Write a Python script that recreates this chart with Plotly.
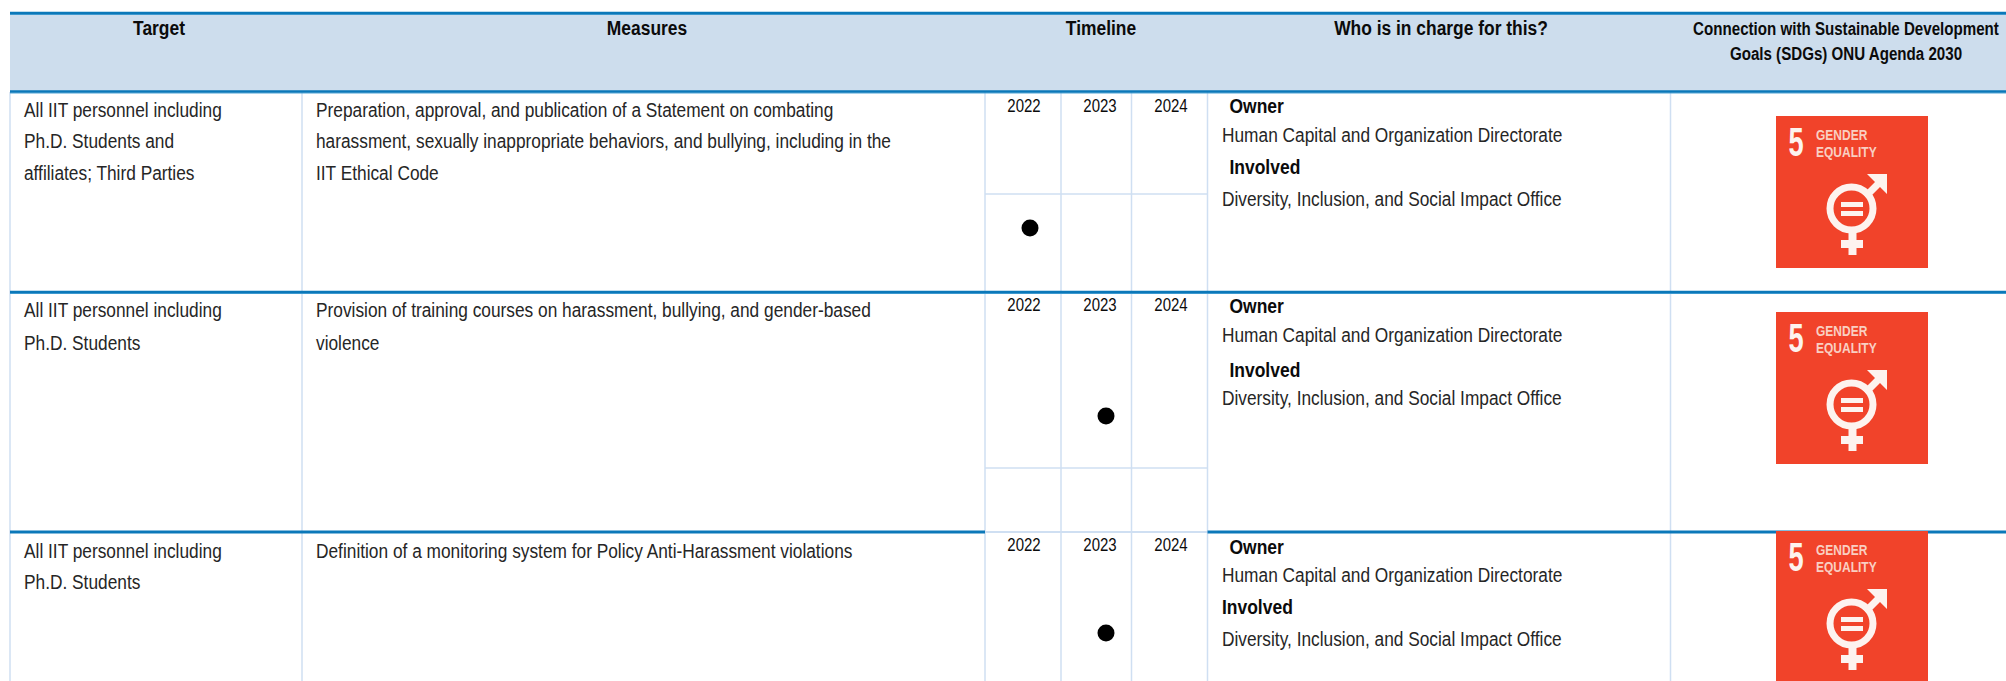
import plotly.graph_objects as go

# ---------- content ----------
headers = ["Target", "Measures", "Timeline", "Who is in charge for this?"]
sdg_header = ["Connection with Sustainable Development", "Goals (SDGs) ONU Agenda 2030"]
targets = [
    ["All IIT personnel including", "Ph.D. Students and", "affiliates; Third Parties"],
    ["All IIT personnel including", "Ph.D. Students"],
    ["All IIT personnel including", "Ph.D. Students"],
]
measures = [
    ["Preparation, approval, and publication of a Statement on combating",
     "harassment, sexually inappropriate behaviors, and bullying, including in the",
     "IIT Ethical Code"],
    ["Provision of training courses on harassment, bullying, and gender-based", "violence"],
    ["Definition of a monitoring system for Policy Anti-Harassment violations"],
]
years = ["2022", "2023", "2024"]
planned_year = ["2022", "2023", "2023"]
owner_label = "Owner"
owner = "Human Capital and Organization Directorate"
involved_label = "Involved"
involved = "Diversity, Inclusion, and Social Impact Office"

# ---------- layout (page pixels) ----------
W, H = 2006, 681
HEAD = "#0b0b0b"
LINE_BLUE = "#0b78b9"
LINE_SOFT = "#4fa3d6"
LINE_LIGHT = "#cfdff2"
HEAD_BG = "#cddded"
RED = "#f1432a"
ICON_FG = "#fdf3ef"
FONT = "Liberation Sans"
TEXT_DY = 2.5

x_left = 10
col_x = [302, 985, 1061, 1131.5, 1207.5, 1670.5]
row_top = [92, 292, 532]
head_cx = [159, 647, 1101, 1441]
sdg_cx = 1846
year_cx = {"2022": 1024, "2023": 1100, "2024": 1171}
dot_cx = {"2022": 1030, "2023": 1106}
dot_y = [228, 416, 633]
year_y = [105, 304, 544]
line_y = [[110, 141, 173], [310, 343], [551, 582]]
who_y = [[106, 135, 167, 199], [306, 335, 370, 398], [547, 575, 607, 639]]
involved_x = [1229.5, 1229.5, 1222]
timeline_split = [194, 468]
icon_top = [116, 312, 531]
icon_x = 1776
icon_s = 152

shapes = []
def line(x0, y0, x1, y1, color, w):
    shapes.append(dict(type="line", x0=x0, y0=y0, x1=x1, y1=y1, layer="below",
                       line=dict(color=color, width=w)))
def rect(x0, y0, x1, y1, color):
    shapes.append(dict(type="rect", x0=x0, y0=y0, x1=x1, y1=y1, layer="below",
                       fillcolor=color, line=dict(width=0)))

rect(x_left, 13, W, 92, HEAD_BG)
for x in [x_left] + col_x:
    line(x, 92, x, H, LINE_LIGHT, 1.5)
for y in timeline_split:
    line(col_x[1], y, col_x[4], y, LINE_LIGHT, 1.5)
for y in [13, 91.5, 292]:
    line(x_left, y + 1.5, W, y + 1.5, LINE_SOFT, 1)
    line(x_left, y, W, y, LINE_BLUE, 2.5)
line(x_left, 532, col_x[1], 532, LINE_BLUE, 3)
line(col_x[1], 532, col_x[4], 532, LINE_LIGHT, 2)
line(col_x[4], 532, W, 532, LINE_BLUE, 3)

def icon(top):
    X = lambda v: icon_x + v
    Y = lambda v: top + v
    rect(X(0), Y(0), X(icon_s), Y(icon_s), RED)
    shapes.append(dict(type="circle", x0=X(54), y0=Y(71), x1=X(97), y1=Y(114), layer="below",
                       fillcolor="rgba(0,0,0,0)", line=dict(color=ICON_FG, width=7)))
    rect(X(65), Y(86), X(87), Y(91), ICON_FG)
    rect(X(65), Y(95), X(87), Y(100), ICON_FG)
    rect(X(72.5), Y(116), X(80.5), Y(139), ICON_FG)
    rect(X(65), Y(124), X(87), Y(132), ICON_FG)
    p = [(91, 58), (111, 58), (111, 78), (104, 71), (92, 83), (87, 78), (99, 66)]
    path = "M" + " L".join(f"{X(a)},{Y(b)}" for a, b in p) + " Z"
    shapes.append(dict(type="path", path=path, layer="below", fillcolor=ICON_FG, line=dict(width=0)))

for t in icon_top:
    icon(t)

fig = go.Figure()

def text_trace(xs, ys, txt, size, bold=False, pos="middle right", color="#262626"):
    fig.add_trace(go.Scatter(x=xs, y=[v + TEXT_DY for v in ys], text=txt, mode="text", textposition=pos,
                             textfont=dict(family=FONT, size=size, color=color,
                                           weight="bold" if bold else "normal"),
                             hoverinfo="skip", showlegend=False))

text_trace(head_cx, [27] * 4, headers, 20, True, "middle center", HEAD)
text_trace([sdg_cx] * 2, [28, 53], sdg_header, 18, True, "middle center", HEAD)

bx, by, bt = [], [], []
for r in range(3):
    for i, s in enumerate(targets[r]):
        bx.append(24); by.append(line_y[r][i]); bt.append(s)
    for i, s in enumerate(measures[r]):
        bx.append(316); by.append(line_y[r][i]); bt.append(s)
    bx += [1222, 1222]; by += [who_y[r][1], who_y[r][3]]; bt += [owner, involved]
text_trace(bx, by, bt, 19.5)

lx, ly, lt = [], [], []
for r in range(3):
    lx += [1229.5, involved_x[r]]; ly += [who_y[r][0], who_y[r][2]]; lt += [owner_label, involved_label]
text_trace(lx, ly, lt, 19.4, True, color=HEAD)

yx, yy, yt = [], [], []
for r in range(3):
    for y in years:
        yx.append(year_cx[y]); yy.append(year_y[r]); yt.append(y)
text_trace(yx, yy, yt, 18.5, False, "middle center", HEAD)

fig.add_trace(go.Scatter(x=[dot_cx[y] for y in planned_year], y=dot_y, mode="markers",
                         marker=dict(color="black", size=17, line=dict(width=0)),
                         hoverinfo="skip", showlegend=False))

for t in icon_top:
    text_trace([icon_x + 20], [t + 27], ["5"], 40, True, "middle center", ICON_FG)
    text_trace([icon_x + 40, icon_x + 40], [t + 17.5, t + 35], ["GENDER", "EQUALITY"],
               15, True, "middle right", "#f9cfc2")

fig.update_layout(
    width=W, height=H, margin=dict(l=0, r=0, t=0, b=0),
    paper_bgcolor="white", plot_bgcolor="white", shapes=shapes,
    xaxis=dict(range=[0, W], visible=False, fixedrange=True),
    yaxis=dict(range=[H, 0], visible=False, fixedrange=True),
)

# The reference's text is condensed; squeeze glyphs horizontally, keeping real text.
post = """
document.body.style.margin = '0';
document.body.style.overflow = 'hidden';
var squeeze = {'20':0.87,'19.5':0.887,'19.4':0.9,'18.5':0.81,'18':0.84,'40':0.68,'15':0.8};
document.querySelectorAll('.textpoint text').forEach(function(t){
  var s = squeeze[String(parseFloat(t.style.fontSize))] || 1;
  t.setAttribute('textLength', (t.getComputedTextLength()*s).toFixed(2));
  t.setAttribute('lengthAdjust', 'spacingAndGlyphs');
});
"""
fig.write_html("out.html", config={"displayModeBar": False}, post_script=post)
